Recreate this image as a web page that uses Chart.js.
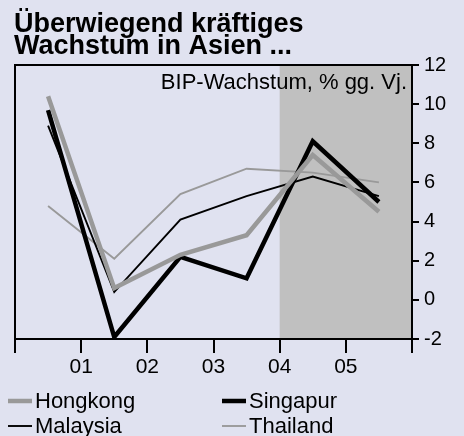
<!DOCTYPE html>
<html>
<head>
<meta charset="utf-8">
<script src="https://cdn.jsdelivr.net/npm/chart.js@4.4.0/dist/chart.umd.min.js"></script>
<style>
  html, body { margin: 0; padding: 0; background: #e0e2f0; }
  canvas { display: block; }
</style>
</head>
<body>
<canvas id="chart" width="464" height="436"></canvas>
<script>
// Daten: BIP-Wachstum, % gg. Vj. (Jahresmitte)
const YEARS = [2000.5, 2001.5, 2002.5, 2003.5, 2004.5, 2005.5];
const HONGKONG = [10.4, 0.6, 2.3, 3.3, 7.4, 4.5];
const SINGAPUR = [9.7, -1.9, 2.2, 1.1, 8.1, 5.0];
const MALAYSIA = [8.9, 0.4, 4.1, 5.3, 6.3, 5.3];
const THAILAND = [4.8, 2.1, 5.4, 6.7, 6.5, 6.0];

const X_TICKS = [2000, 2001, 2002, 2003, 2004, 2005, 2006];
const X_LABELS = ['', '01', '02', '03', '04', '05', ''];
const Y_MIN = -2, Y_MAX = 12, Y_STEP = 2;
const SHADE_FROM = 2004; // Prognosezeitraum

const TITLE = ['Überwiegend kräftiges', 'Wachstum in Asien ...'];
const UNIT = 'BIP-Wachstum, % gg. Vj.';

const FONT = '"Liberation Sans", Arial, sans-serif';

function pts(values) {
    return YEARS.map((x, i) => ({ x: x, y: values[i] }));
}

// Schattierung, Rahmen, Titel, Legende
const extras = {
    id: 'extras',
    beforeDatasetsDraw(chart) {
        const { ctx, chartArea, scales } = chart;
        const x0 = scales.x.getPixelForValue(SHADE_FROM);
        ctx.save();
        ctx.fillStyle = '#c0c0c0';
        ctx.fillRect(x0, chartArea.top, chartArea.right - x0, chartArea.bottom - chartArea.top);
        ctx.restore();
    },
    afterDatasetsDraw(chart) {
        const { ctx, chartArea } = chart;
        ctx.save();
        ctx.strokeStyle = '#000';
        ctx.lineWidth = 2;
        ctx.strokeRect(chartArea.left, chartArea.top, chartArea.right - chartArea.left, chartArea.bottom - chartArea.top);
        ctx.restore();
    },
    afterDraw(chart) {
        const { ctx, chartArea } = chart;
        ctx.save();
        ctx.fillStyle = '#000';
        // Titel
        ctx.font = 'bold 27px ' + FONT;
        ctx.textAlign = 'left';
        ctx.textBaseline = 'alphabetic';
        ctx.fillText(TITLE[0], 14, 32);
        ctx.fillText(TITLE[1], 14, 54);
        // Einheit
        ctx.font = '22px ' + FONT;
        ctx.textAlign = 'right';
        ctx.fillText(UNIT, chartArea.right - 5, 89);
        // Legende
        const cols = [8, 222];
        const rows = [401, 426];
        ctx.textAlign = 'left';
        ctx.textBaseline = 'middle';
        chart.data.datasets.forEach((ds, i) => {
            const x = cols[i % 2];
            const y = rows[Math.floor(i / 2)];
            ctx.strokeStyle = ds.borderColor;
            ctx.lineWidth = ds.borderWidth;
            ctx.beginPath();
            ctx.moveTo(x, y);
            ctx.lineTo(x + 24, y);
            ctx.stroke();
            ctx.fillStyle = '#000';
            ctx.fillText(ds.label, x + 27, y + 1);
        });
        ctx.restore();
    }
};

new Chart(document.getElementById('chart'), {
    type: 'line',
    data: {
        datasets: [
            { label: 'Hongkong', data: pts(HONGKONG), borderColor: '#999999', borderWidth: 4.5 },
            { label: 'Singapur', data: pts(SINGAPUR), borderColor: '#000000', borderWidth: 4.5 },
            { label: 'Malaysia', data: pts(MALAYSIA), borderColor: '#000000', borderWidth: 1.9 },
            { label: 'Thailand', data: pts(THAILAND), borderColor: '#999999', borderWidth: 1.9 }
        ]
    },
    options: {
        responsive: false,
        animation: false,
        layout: { padding: { top: 65, left: 15, right: 10, bottom: 57 } },
        elements: {
            point: { radius: 0 },
            line: { tension: 0, borderJoinStyle: 'miter', fill: false }
        },
        plugins: {
            legend: { display: false },
            title: { display: false },
            tooltip: { enabled: false }
        },
        scales: {
            x: {
                type: 'linear',
                min: X_TICKS[0],
                max: X_TICKS[X_TICKS.length - 1],
                afterBuildTicks: (scale) => { scale.ticks = X_TICKS.map(v => ({ value: v })); },
                afterFit: (scale) => { scale.height = 40; },
                ticks: {
                    autoSkip: false,
                    maxRotation: 0,
                    color: '#000',
                    font: { family: FONT, size: 21 },
                    padding: 2,
                    callback: (v) => X_LABELS[X_TICKS.indexOf(v)] ?? ''
                },
                grid: { drawOnChartArea: false, drawTicks: true, tickLength: 14, color: '#000', lineWidth: 2 },
                border: { display: true, color: '#000', width: 2 }
            },
            y: {
                position: 'right',
                min: Y_MIN,
                max: Y_MAX,
                afterFit: (scale) => { scale.width = 42; },
                ticks: {
                    stepSize: Y_STEP,
                    color: '#000',
                    font: { family: FONT, size: 20 },
                    padding: 5,
                    crossAlign: 'near'
                },
                grid: { drawOnChartArea: false, drawTicks: true, tickLength: 7, color: '#000', lineWidth: 2 },
                border: { display: true, color: '#000', width: 2 }
            }
        }
    },
    plugins: [extras]
});
</script>
</body>
</html>
